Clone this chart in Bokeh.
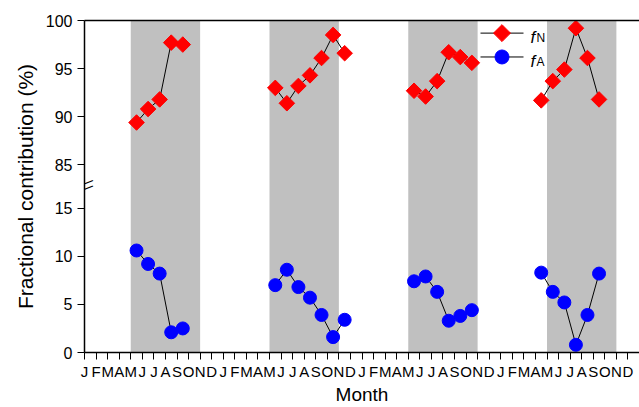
from bokeh.plotting import figure
from bokeh.models import (Range1d, LinearAxis, FixedTicker, BoxAnnotation,
                          Label, ColumnDataSource)
from bokeh.embed import file_html
from bokeh.resources import INLINE
import math

# ---------------- data ----------------
month_letters = ["J", "F", "M", "A", "M", "J", "J", "A", "S", "O", "N", "D"]
n_years = 4
shade_first_month = 5   # May
shade_last_month = 10   # October

months_y1 = [5, 6, 7, 8, 9]
fN_y1 = [89.4, 90.8, 91.8, 97.7, 97.5]
fA_y1 = [10.6, 9.2, 8.2, 2.1, 2.5]

months_y2 = [5, 6, 7, 8, 9, 10, 11]
fN_y2 = [93.0, 91.4, 93.2, 94.3, 96.1, 98.5, 96.6]
fA_y2 = [7.0, 8.6, 6.8, 5.7, 3.9, 1.6, 3.4]

months_y3 = [5, 6, 7, 8, 9, 10]
fN_y3 = [92.7, 92.1, 93.7, 96.7, 96.2, 95.6]
fA_y3 = [7.4, 7.9, 6.3, 3.3, 3.8, 4.4]

months_y4 = [4, 5, 6, 7, 8, 9]
fN_y4 = [91.7, 93.7, 94.9, 99.2, 96.1, 91.8]
fA_y4 = [8.3, 6.3, 5.2, 0.8, 3.9, 8.2]

low_ticks = [0, 5, 10, 15]
high_ticks = [85, 90, 95, 100]
low_max = 17.25      # top of the lower segment
high_min = 82.75     # bottom of the upper segment
high_max = 100

years = [
    (months_y1, fN_y1, fA_y1),
    (months_y2, fN_y2, fA_y2),
    (months_y3, fN_y3, fA_y3),
    (months_y4, fN_y4, fA_y4),
]

# ---------------- figure ----------------
FONT = "Liberation Sans"
W, H = 639, 407
B_LEFT, B_TOP, B_BOTTOM = 84, 20, 53
frame_w = W - B_LEFT
frame_h = H - B_TOP - B_BOTTOM
offset = high_min - low_max
p = figure(width=W, height=H, output_backend="svg", toolbar_location=None,
           x_range=Range1d(0, 12 * n_years),
           y_range=Range1d(0, low_max + (high_max - high_min)),
           min_border_left=B_LEFT, min_border_right=0, min_border_top=B_TOP,
           min_border_bottom=B_BOTTOM, outline_line_color=None)
p.extra_y_ranges = {"top": Range1d(offset, high_max), "px": Range1d(0, frame_h)}
p.extra_x_ranges = {"px": Range1d(0, frame_w)}
p.grid.visible = False
p.background_fill_color = "white"

# shaded seasons
for yr in range(n_years):
    p.add_layout(BoxAnnotation(left=yr * 12 + shade_first_month - 1,
                               right=yr * 12 + shade_last_month,
                               fill_color="#c0c0c0", fill_alpha=1.0,
                               line_color=None, level="underlay"))

N_STYLE = dict(marker="square", angle=math.pi / 4, size=11,
               fill_color="#ff0000", line_color="#ff0000")
A_STYLE = dict(marker="circle", size=13, fill_color="#0000ff", line_color="#0000ff")

for yr, (months, fN, fA) in enumerate(years):
    xs = [yr * 12 + m - 1 + 0.5 for m in months]
    srcN = ColumnDataSource(dict(x=xs, y=fN))
    srcA = ColumnDataSource(dict(x=xs, y=fA))
    p.line("x", "y", source=srcN, y_range_name="top", line_color="black", line_width=1)
    p.scatter("x", "y", source=srcN, y_range_name="top", **N_STYLE)
    p.line("x", "y", source=srcA, line_color="black", line_width=1)
    p.scatter("x", "y", source=srcA, **A_STYLE)

# axes
xaxis = p.xaxis[0]
xaxis.ticker = FixedTicker(ticks=list(range(0, 12 * n_years)))
xaxis.major_label_overrides = {i: month_letters[i % 12] for i in range(0, 12 * n_years)}
xaxis.axis_label = "Month"
yaxis = p.yaxis[0]
mapped_high = [t - offset for t in high_ticks]
yaxis.ticker = FixedTicker(ticks=low_ticks + mapped_high)
yaxis.major_label_overrides = {m: str(t) for m, t in zip(mapped_high, high_ticks)}
yaxis.axis_label = "Fractional contribution (%)"

for ax in (xaxis, yaxis):
    ax.axis_line_width = 1.5
    ax.axis_line_color = "black"
    ax.major_tick_line_color = "black"
    ax.major_tick_line_width = 1
    ax.major_tick_out = 7
    ax.major_tick_in = 0
    ax.minor_tick_line_color = None
    ax.major_label_text_font = FONT
    ax.axis_label_text_font = FONT
    ax.axis_label_text_font_style = "normal"
    ax.axis_label_text_font_size = "19px"
    ax.major_label_text_color = "black"
    ax.axis_label_text_color = "black"
xaxis.major_label_text_font_size = "15px"
yaxis.major_label_text_font_size = "16px"
yaxis.axis_label_text_font_size = "21px"
xaxis.major_label_standoff = 3
xaxis.axis_label_standoff = 1
yaxis.major_label_standoff = 5
yaxis.axis_label_standoff = 6

# top border line
top_axis = LinearAxis(axis_line_width=1.5, axis_line_color="black",
                      ticker=FixedTicker(ticks=[]),
                      major_tick_line_color=None, minor_tick_line_color=None,
                      major_tick_out=0, major_tick_in=0, major_label_standoff=0)
p.add_layout(top_axis, "above")

# axis break marks
for yb in (170.0, 164.5):
    p.add_layout(Label(x=0, y=yb, x_units="screen", y_units="screen", text="\u2014",
                       angle=0.38, text_align="center", text_baseline="middle",
                       text_font=FONT, text_font_size="17px", text_color="black"))

# legend (keys drawn in frame pixel space)
fb = H - B_BOTTOM
leg_x0, leg_x1 = 396, 439
for yc, style, sub in ((32.7, N_STYLE, "N"), (56.7, A_STYLE, "A")):
    ky = fb - yc
    p.line([leg_x0, leg_x1], [ky, ky], x_range_name="px", y_range_name="px",
           line_color="black", line_width=1)
    p.scatter([(leg_x0 + leg_x1) / 2], [ky], x_range_name="px", y_range_name="px",
              **{**style, "size": style["size"] + 1})
    base = fb - (yc + 6.3)
    p.add_layout(Label(x=446, y=base, x_units="screen", y_units="screen", text="f",
                       text_font=FONT, text_font_style="italic", text_font_size="17px",
                       text_align="left", text_baseline="alphabetic", text_color="black"))
    p.add_layout(Label(x=452, y=base, x_units="screen", y_units="screen", text=sub,
                       text_font=FONT, text_font_size="12px",
                       text_align="left", text_baseline="alphabetic", text_color="black"))

open("out.html", "w").write(file_html(p, INLINE))
